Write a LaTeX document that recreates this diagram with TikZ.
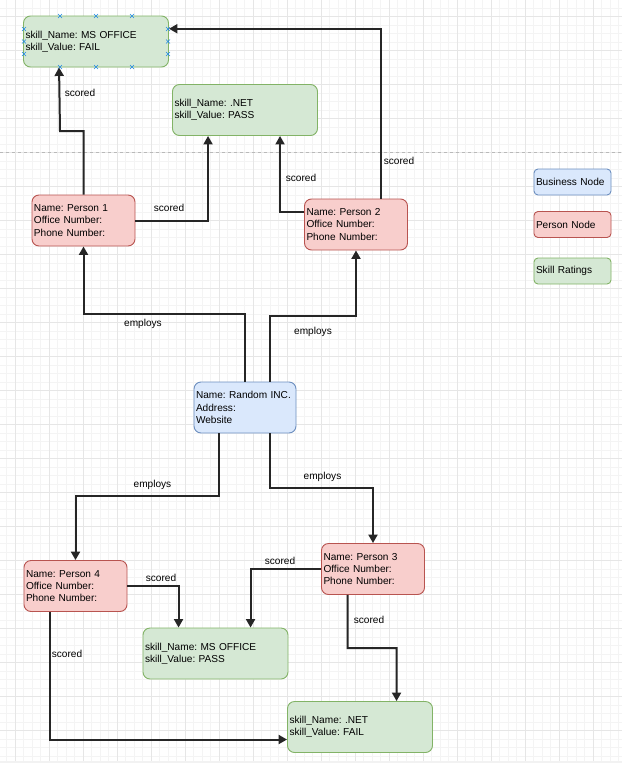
\documentclass[tikz,border=0pt]{standalone}
\usepackage{fontspec}
\setmainfont{Liberation Sans}
\usetikzlibrary{arrows.meta}
\definecolor{gfill}{HTML}{D5E8D4}\definecolor{gline}{HTML}{82B366}
\definecolor{rfill}{HTML}{F8CECC}\definecolor{rline}{HTML}{B85450}
\definecolor{bfill}{HTML}{DAE8FC}\definecolor{bline}{HTML}{6C8EBF}
\definecolor{edgec}{HTML}{262626}
\definecolor{gridmin}{HTML}{F4F4F4}
\definecolor{gridmaj}{HTML}{E6E6E6}
\definecolor{selc}{HTML}{1E88E5}
\frenchspacing
\begin{document}
\begin{tikzpicture}[x=1pt,y=-1pt,
  box/.style={draw, line width=0.9pt, rounded corners=7pt, inner xsep=2pt, inner ysep=0pt,
    align=left, font=\fontsize{10.1}{12.3}\selectfont},
  skill/.style={box, fill=gfill, draw=gline, text width=141pt, minimum height=51pt},
  person/.style={box, fill=rfill, draw=rline, text width=99pt, minimum height=51pt},
  biz/.style={box, fill=bfill, draw=bline, text width=98pt, minimum height=51pt},
  legend/.style={box, rounded corners=4pt, text width=73pt, minimum height=26pt},
  edge/.style={draw=edgec, line width=2pt, -{Triangle[length=8.5pt,width=9pt]}},
  lbl/.style={font=\fontsize{10.1}{12}\selectfont, inner sep=0pt, anchor=base}]
\useasboundingbox (0,0) rectangle (622,763);
\fill[white] (0,0) rectangle (622,763);
% grid
\foreach \i in {0,...,72} \draw[gridmin, line width=0.8pt] ({6.8+8.5*\i},0) -- ({6.8+8.5*\i},761);
\foreach \i in {0,...,88} \draw[gridmin, line width=0.8pt] (0,{8+8.5*\i}) -- (622,{8+8.5*\i});
\foreach \i in {0,...,17} \draw[gridmaj, line width=0.8pt] ({15.3+34*\i},0) -- ({15.3+34*\i},761);
\foreach \i in {0,...,21} \draw[gridmaj, line width=0.8pt] (0,{16.5+34*\i}) -- (622,{16.5+34*\i});
\fill[gray!10] (0,761) rectangle (622,763);
% page separator
\draw[gray!55, line width=0.6pt, dash pattern=on 3pt off 3pt] (0,152) -- (622,152);

% nodes
\node[skill] (s1) at (96,41.5) {skill\_Name: MS OFFICE\\skill\_Value: FAIL};
\node[skill] (s2) at (245,110) {skill\_Name: .NET\\skill\_Value: PASS};
\node[person] (p1) at (83.5,220.5) {Name: Person 1\\Office Number:\\Phone Number:};
\node[person] (p2) at (356,224.5) {Name: Person 2\\Office Number:\\Phone Number:};
\node[biz] (bz) at (245,407.5) {Name: Random INC.\\Address:\\Website};
\node[person] (p4) at (75.5,586) {Name: Person 4\\Office Number:\\Phone Number:};
\node[person] (p3) at (373,569) {Name: Person 3\\Office Number:\\Phone Number:};
\node[skill] (s3) at (215.5,653.5) {skill\_Name: MS OFFICE\\skill\_Value: PASS};
\node[skill] (s4) at (360,727) {skill\_Name: .NET\\skill\_Value: FAIL};
\node[legend, fill=bfill, draw=bline] (l1) at (572.5,182) {Business Node};
\node[legend, fill=rfill, draw=rline] (l2) at (572.5,224.5) {Person Node};
\node[legend, fill=gfill, draw=gline] (l3) at (572.5,271) {Skill Ratings};

% selection markers
\foreach \x/\y in {60/16,96/16,132/16,60/67,96/67,132/67,24/29,24/41.5,24/54,168/29,168/41.5,168/54}
  \draw[selc, line width=0.7pt] ({\x-2},{\y-2}) -- ({\x+2},{\y+2}) ({\x-2},{\y+2}) -- ({\x+2},{\y-2});

% connectors
\draw[edge] (bz.north) |- (83.5,314) -- (p1.south);
\draw[edge] ([xshift=25pt]bz.north) |- (356,316) -- (p2.south);
\draw[edge] ([xshift=-26pt]bz.south) |- (75.5,496) -- (p4.north);
\draw[edge] ([xshift=25pt]bz.south) |- (373,488) -- (p3.north);
\draw[edge] (p1.north) |- (60,131) -- ([xshift=36pt]s1.south west);
\draw[edge] (p1.east) -| ([xshift=36pt]s2.south west);
\draw[edge] ([yshift=12.75pt]p2.west) -| ([xshift=108pt]s2.south west);
\draw[edge] ([xshift=25pt]p2.north) |- ([yshift=12.75pt]s1.east);
\draw[edge] (p4.east) -| ([xshift=36pt]s3.north west);
\draw[edge] (p3.west) -| ([xshift=108pt]s3.north west);
\draw[edge] ([xshift=-25.5pt]p3.south) |- (396.5,648) -- ([xshift=109.5pt]s4.north west);
\draw[edge] ([xshift=-25.75pt]p4.south) |- ([yshift=-12.5pt]s4.west);

% labels
\node[lbl] (t1) at (143,326.5) {employs};
\node[lbl] (t2) at (313,334.5) {employs};
\node[lbl] (t3) at (152.5,487.5) {employs};
\node[lbl] (t4) at (322.5,479.5) {employs};
\node[lbl] (t5) at (80,96.5) {scored};
\node[lbl] (t6) at (169,211.5) {scored};
\node[lbl] (t7) at (301,181.5) {scored};
\node[lbl] (t8) at (399,164.5) {scored};
\node[lbl] (t9) at (161,581.5) {scored};
\node[lbl] (t10) at (280,564.5) {scored};
\node[lbl] (t11) at (369,623.5) {scored};
\node[lbl] (t12) at (67,657.5) {scored};
\end{tikzpicture}
\end{document}
